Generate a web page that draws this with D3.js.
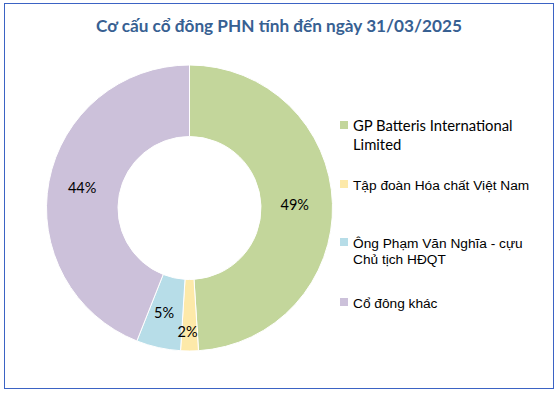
<!DOCTYPE html>
<html>
<head>
<meta charset="utf-8">
<script src="https://cdn.jsdelivr.net/npm/d3@7"></script>
<style>
  body { margin: 0; background: #fff; }
</style>
</head>
<body>
<div id="chart"></div>
<script>
// Shareholder structure, PHN, as of 31/03/2025
const categories = [
    ["GP Batteris International", "Limited"],
    ["Tập đoàn Hóa chất Việt Nam"],
    ["Ông Phạm Văn Nghĩa - cựu", "Chủ tịch HĐQT"],
    ["Cổ đông khác"]
];
const shares = [49, 2, 5, 44];
const colors = ["#c3d69b", "#fde9a9", "#b7dde8", "#ccc1da"];
const title = "Cơ cấu cổ đông PHN tính đến ngày 31/03/2025";

const width = 557, height = 393;
const cx = 189.5, cy = 208;
const outerR = 143, innerR = 71.5;

const svg = d3.select("#chart")
    .append("svg")
    .attr("width", width)
    .attr("height", height);

// Chart frame
svg.append("rect")
    .attr("x", 4.5)
    .attr("y", 3.5)
    .attr("width", 549)
    .attr("height", 385)
    .attr("fill", "#fff")
    .attr("stroke", "#3b63c4")
    .attr("stroke-width", 1);

svg.append("text")
    .attr("x", 279)
    .attr("y", 32)
    .attr("text-anchor", "middle")
    .attr("font-family", "Lato, 'Open Sans', sans-serif")
    .attr("font-weight", "bold")
    .attr("font-size", 17.2)
    .attr("fill", "#376092")
    .text(title);

const data = shares.map((v, i) => ({ name: categories[i], value: v, color: colors[i] }));

const pie = d3.pie()
    .value(d => d.value)
    .sort(null);

const arc = d3.arc()
    .innerRadius(innerR)
    .outerRadius(outerR);

const g = svg.append("g")
    .attr("transform", `translate(${cx},${cy})`);

const arcs = pie(data);

g.selectAll(".slice")
    .data(arcs)
    .join("path")
    .attr("class", "slice")
    .attr("d", arc)
    .attr("fill", d => d.data.color)
    .attr("stroke", "#fff")
    .attr("stroke-width", 1);

// labels sit in the middle of the ring; very thin slices get pushed outward
g.selectAll(".label")
    .data(arcs)
    .join("text")
    .attr("class", "label")
    .attr("transform", d => {
        const a = (d.startAngle + d.endAngle) / 2;
        const r = (d.endAngle - d.startAngle) < 0.2 ? 124 : (innerR + outerR) / 2;
        return `translate(${r * Math.sin(a) - 2},${-r * Math.cos(a) + 5})`;
    })
    .attr("text-anchor", "middle")
    .attr("font-family", "Lato, sans-serif")
    .attr("font-size", 14.5)
    .attr("fill", "#000")
    .text(d => d.data.value + "%");

// Legend (first entry is set in the Calibri-like face, the rest Arial-like)
const legendX = 340;
const legendY = [121, 180, 238, 298];
const lineGap = [19.5, 0, 16, 0];

const legend = svg.selectAll(".legend")
    .data(data)
    .join("g")
    .attr("class", "legend")
    .attr("transform", (d, i) => `translate(${legendX},${legendY[i]})`);

legend.append("rect")
    .attr("width", 8)
    .attr("height", 8)
    .attr("fill", d => d.color);

legend.append("text")
    .attr("font-family", (d, i) => i === 0 ? "Lato, sans-serif" : "'Liberation Sans', Arial, sans-serif")
    .attr("font-size", (d, i) => i === 0 ? 14.8 : 13.7)
    .attr("fill", "#000")
    .each(function(d, i) {
        d3.select(this).selectAll("tspan")
            .data(d.name)
            .join("tspan")
            .attr("x", 13)
            .attr("y", (t, j) => 9.5 + j * lineGap[i])
            .text(t => t);
    });
</script>
</body>
</html>
